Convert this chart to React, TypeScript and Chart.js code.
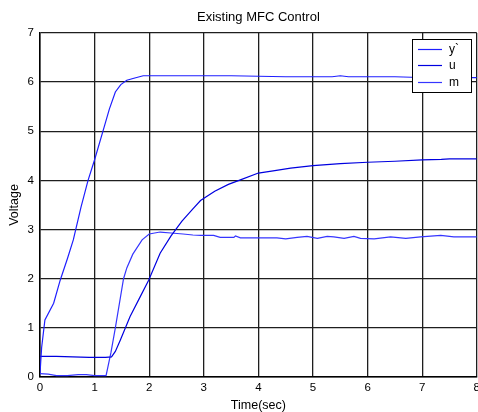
import React, { useEffect, useRef } from "react";
import { Chart, registerables } from "chart.js";

Chart.register(...registerables);

const TITLE = "Existing MFC Control";
const X_LABEL = "Time(sec)";
const Y_LABEL = "Voltage";
const SERIES_NAMES = ["y`", "u", "m"];
const SERIES_COLORS = ["#1e1eff", "#0000e0", "#3535ff"];

const xTicks = [0, 1, 2, 3, 4, 5, 6, 7, 8];
const yTicks = [0, 1, 2, 3, 4, 5, 6, 7];

const yPrimeTime = [0, 0.03, 0.09, 0.25, 0.37, 0.5, 0.61, 0.75, 0.88, 1.0, 1.16, 1.27, 1.38, 1.48, 1.59, 1.72, 1.89, 2.5, 3.0, 3.5, 4.0, 4.5, 5.0, 5.35, 5.5, 5.65, 6.0, 6.5, 6.8, 7.0, 7.5, 8.0];
const yPrimeValue = [0.07, 0.6, 1.16, 1.5, 1.97, 2.4, 2.79, 3.45, 4.0, 4.42, 5.03, 5.45, 5.8, 5.95, 6.04, 6.08, 6.13, 6.13, 6.13, 6.13, 6.12, 6.11, 6.11, 6.11, 6.13, 6.11, 6.11, 6.11, 6.1, 6.09, 6.09, 6.09];

const uTime = [0, 0.3, 0.6, 0.9, 1.2, 1.31, 1.38, 1.47, 1.65, 1.82, 1.99, 2.2, 2.4, 2.6, 2.8, 2.94, 3.2, 3.45, 3.67, 4.0, 4.3, 4.59, 5.0, 5.5, 6.0, 6.5, 7.0, 7.35, 7.5, 8.0];
const uValue = [0.42, 0.42, 0.41, 0.4, 0.4, 0.41, 0.52, 0.75, 1.23, 1.6, 1.97, 2.52, 2.87, 3.17, 3.42, 3.59, 3.78, 3.92, 4.01, 4.15, 4.2, 4.25, 4.3, 4.34, 4.37, 4.39, 4.42, 4.43, 4.44, 4.44];

const mTime = [0, 0.15, 0.3, 0.5, 0.7, 0.85, 1.0, 1.21, 1.3, 1.38, 1.53, 1.59, 1.7, 1.87, 2.0, 2.2, 2.4, 2.62, 2.8, 2.94, 3.18, 3.3, 3.55, 3.58, 3.67, 4.0, 4.34, 4.5, 4.71, 4.89, 5.08, 5.26, 5.38, 5.57, 5.75, 5.87, 6.12, 6.42, 6.7, 6.97, 7.34, 7.58, 8.0];
const mValue = [0.07, 0.06, 0.03, 0.03, 0.05, 0.05, 0.03, 0.03, 0.5, 1.0, 2.0, 2.22, 2.5, 2.79, 2.91, 2.95, 2.93, 2.91, 2.89, 2.88, 2.88, 2.84, 2.84, 2.87, 2.83, 2.83, 2.83, 2.81, 2.84, 2.86, 2.82, 2.86, 2.85, 2.82, 2.86, 2.82, 2.81, 2.85, 2.82, 2.85, 2.88, 2.85, 2.85];

const FONT = '"Liberation Sans", Arial, Helvetica, sans-serif';

function zip(t: number[], v: number[]) {
  return t.map((x, i) => ({ x, y: v[i] }));
}

const boxLegend = {
  id: "boxLegend",
  afterDraw(chart: any) {
    const ctx = chart.ctx;
    const left = 412;
    const top = 39;
    const w = 59;
    const h = 53;
    ctx.save();
    ctx.fillStyle = "#fff";
    ctx.fillRect(left, top, w, h);
    ctx.strokeStyle = "#000";
    ctx.lineWidth = 1;
    ctx.strokeRect(left + 0.5, top + 0.5, w, h);
    chart.data.datasets.forEach((ds: any, i: number) => {
      const y = Math.round(49 + i * 16.3) + 0.5;
      ctx.strokeStyle = ds.borderColor;
      ctx.lineWidth = 1.2;
      ctx.beginPath();
      ctx.moveTo(418, y);
      ctx.lineTo(442, y);
      ctx.stroke();
      ctx.fillStyle = "#000";
      ctx.font = `12px ${FONT}`;
      ctx.textBaseline = "middle";
      ctx.textAlign = "left";
      ctx.fillText(ds.label, 449, y);
    });
    ctx.restore();
  },
};

export default function App() {
  const ref = useRef<HTMLCanvasElement | null>(null);

  useEffect(() => {
    if (!ref.current) return;
    const series = [
      zip(yPrimeTime, yPrimeValue),
      zip(uTime, uValue),
      zip(mTime, mValue),
    ];
    const chart = new Chart(ref.current, {
      type: "line",
      data: {
        datasets: series.map((data, i) => ({
          label: SERIES_NAMES[i],
          data,
          borderColor: SERIES_COLORS[i],
          backgroundColor: SERIES_COLORS[i],
          borderWidth: 1.2,
          pointRadius: 0,
          tension: 0,
          fill: false,
        })),
      },
      options: {
        animation: false,
        responsive: true,
        maintainAspectRatio: false,
        layout: { padding: 0 },
        plugins: {
          legend: { display: false },
          tooltip: { enabled: false },
          title: {
            display: true,
            text: TITLE,
            fullSize: false,
            color: "#000",
            font: { family: FONT, size: 13, weight: "normal" },
            padding: { top: 9.2, bottom: 8.2 },
          },
        },
        scales: {
          x: {
            type: "linear",
            min: 0,
            max: 8,
            afterFit: (s: any) => {
              s.height = 35;
            },
            afterBuildTicks: (s: any) => {
              s.ticks = xTicks.map((value) => ({ value }));
            },
            ticks: {
              color: "#000",
              font: { family: FONT, size: 11.5 },
              padding: 4,
              maxRotation: 0,
              autoSkip: false,
            },
            grid: { color: "#1e1e1e", lineWidth: 1.3, drawTicks: false },
            border: { display: true, color: "#000", width: 1.5 },
            title: {
              display: true,
              text: X_LABEL,
              color: "#000",
              font: { family: FONT, size: 12.5 },
              padding: { top: 0, bottom: -1 },
            },
          },
          y: {
            type: "linear",
            min: 0,
            max: 7,
            afterFit: (s: any) => {
              s.width = 40;
            },
            afterBuildTicks: (s: any) => {
              s.ticks = yTicks.map((value) => ({ value }));
            },
            ticks: {
              color: "#000",
              font: { family: FONT, size: 11.5 },
              padding: 6,
              autoSkip: false,
            },
            grid: { color: "#1e1e1e", lineWidth: 1.3, drawTicks: false },
            border: { display: true, color: "#000", width: 1.5 },
            title: {
              display: true,
              text: Y_LABEL,
              color: "#000",
              font: { family: FONT, size: 12.5 },
              padding: { top: 7.5, bottom: 0 },
            },
          },
        },
      },
      plugins: [boxLegend],
    });
    return () => chart.destroy();
  }, []);

  return (
    <div
      style={{
        position: "fixed",
        left: 0,
        top: 0,
        width: 478,
        height: 412,
        overflow: "hidden",
        background: "#fff",
      }}
    >
      <div style={{ position: "relative", width: 484, height: 412 }}>
        <canvas ref={ref} />
      </div>
    </div>
  );
}
